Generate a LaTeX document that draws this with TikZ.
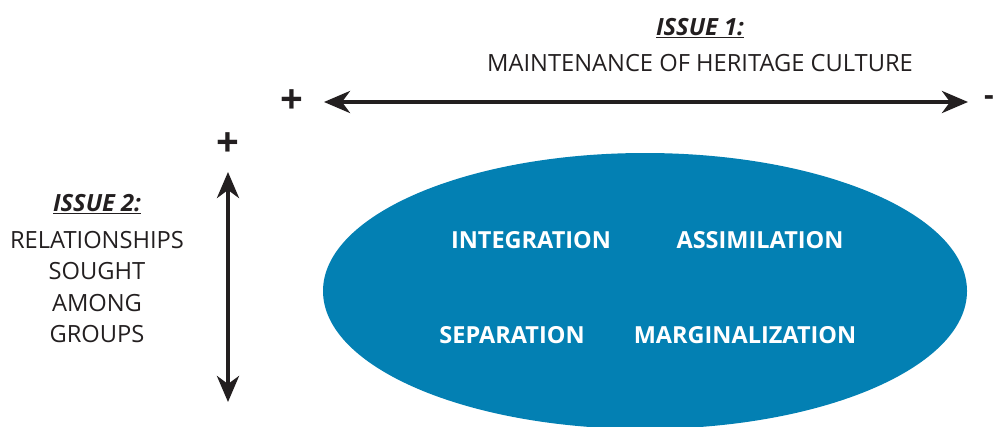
\documentclass[tikz,border=0pt]{standalone}
\usepackage{fontspec}
\setmainfont{Open Sans}
\usepackage{tikz}
\usetikzlibrary{arrows.meta}
\usepackage{color}
\definecolor{acculblue}{RGB}{3,128,179}
\definecolor{inkgray}{RGB}{35,31,32}

\begin{document}
\begin{tikzpicture}[x=1pt,y=-1pt,>={Stealth[length=26pt,width=22pt,inset=8pt]},inkgray,
  axis line/.style={<->,line width=4pt},
  strategy/.style={text=white,font=\fontsize{23.5}{25}\selectfont\bfseries},
  issue text/.style={font=\fontsize{23.7}{31.5}\selectfont,align=center},
  sign/.style={font=\fontsize{40}{40}\selectfont\bfseries}]

  \useasboundingbox (0,0) rectangle (995,426);
  \clip (0,0) rectangle (995,426);

  % ellipse of strategies
  \fill[acculblue] (645,291) ellipse [x radius=322, y radius=138];
  \node[strategy] (integ) at (531,240) {INTEGRATION};
  \node[strategy] (assim) at (760,240) {ASSIMILATION};
  \node[strategy] (separ) at (512,335) {SEPARATION};
  \node[strategy] (margi) at (745,335) {MARGINALIZATION};

  % issue 1 (horizontal)
  \node[issue text] (issue1) at (700,28) {\underline{\textbf{\textit{ISSUE 1:}}}};
  \node[issue text] (culture) at (700,63) {MAINTENANCE OF HERITAGE CULTURE};
  \node[sign] (plus1) at (292,102) {+};
  \node[sign,font=\fontsize{30}{30}\selectfont\bfseries,inner sep=0pt,anchor=east] (minus1) at (994,101) {-};
  \coordinate (h left) at (324,102);
  \coordinate (h right) at (968,102);
  \draw[axis line] (h left) -- (h right);

  % issue 2 (vertical)
  \node[sign] (plus2) at (228,145) {+};
  \node[issue text] (issue2) at (97,204) {\underline{\textbf{\textit{ISSUE 2:}}}};
  \node[issue text] (relat) at (97,287) {RELATIONSHIPS\\SOUGHT\\AMONG\\GROUPS};
  \coordinate (v top) at (228,172);
  \coordinate (v bottom) at (228,402);
  \draw[axis line] (v top) -- (v bottom);
\end{tikzpicture}
\end{document}
